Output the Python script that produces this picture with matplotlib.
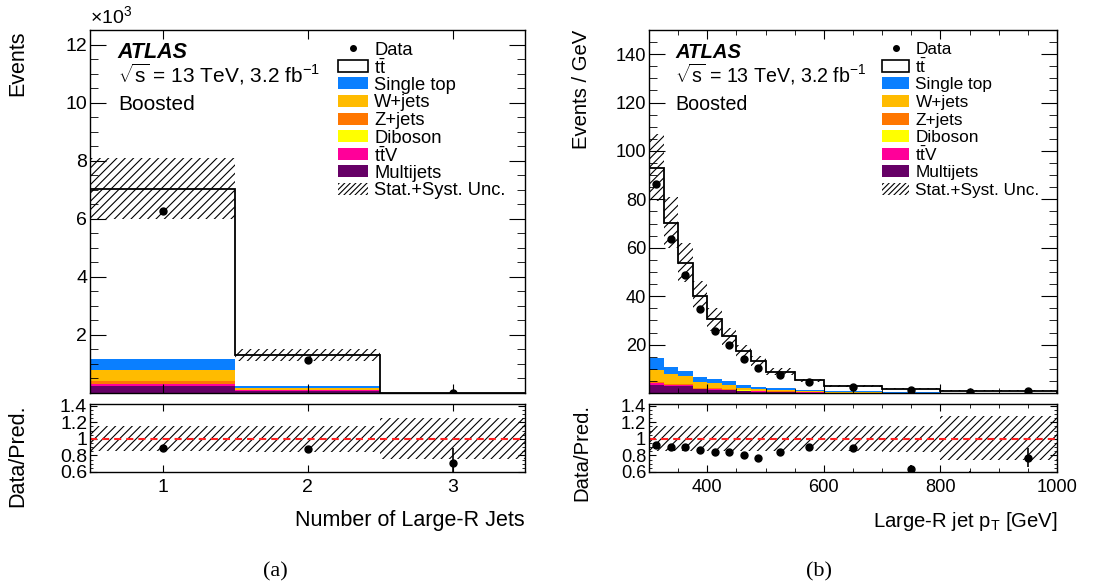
import matplotlib.pyplot as plt
import numpy as np
from matplotlib.patches import Rectangle
from matplotlib.lines import Line2D
from matplotlib.ticker import FixedLocator, MultipleLocator, FormatStrFormatter

plt.rcParams['font.family'] = ['Liberation Sans', 'DejaVu Sans']
plt.rcParams['mathtext.fontset'] = 'custom'
plt.rcParams['mathtext.rm'] = 'Liberation Sans'
plt.rcParams['mathtext.it'] = 'Liberation Sans:italic'
plt.rcParams['mathtext.bf'] = 'Liberation Sans:bold'
plt.rcParams['hatch.linewidth'] = 0.8
plt.rcParams['hatch.color'] = 'black'
plt.rcParams['axes.linewidth'] = 1.0

# background processes, bottom of the stack first
bkg_names = ['Multijets', 'ttV', 'Diboson', 'Z+jets', 'W+jets', 'Single top']
bkg_colors = ['#660066', '#ff0099', '#ffff00', '#ff7700', '#ffbb00', '#0a7fff']

# (a) number of large-R jets, events in units of 10^3
nj_edges = [0.5, 1.5, 2.5, 3.5]
nj_multijets = [0.25, 0.08, 0.001]
nj_ttv = [0.05, 0.02, 0.0005]
nj_diboson = [0.02, 0.005, 0.0002]
nj_zjets = [0.08, 0.015, 0.0003]
nj_wjets = [0.38, 0.05, 0.002]
nj_singletop = [0.40, 0.07, 0.002]
nj_ttbar = [5.86, 1.06, 0.006]
nj_data = [6.27, 1.14, 0.0085]
nj_data_err = [0.08, 0.034, 0.0022]
nj_unc_up = [0.15, 0.16, 0.25]
nj_unc_dn = [0.15, 0.16, 0.24]

# (b) large-R jet pT, events / GeV
pt_edges = [300, 325, 350, 375, 400, 425, 450, 475, 500, 550, 600, 700, 800, 900, 1000]
pt_multijets = [3.5, 2.8, 2.8, 1.5, 1.4, 1.1, 0.9, 0.6, 0.45, 0.18, 0.08, 0.03, 0.01, 0.01]
pt_ttv = [0.5, 0.4, 0.3, 0.2, 0.2, 0.15, 0.12, 0.1, 0.08, 0.05, 0.03, 0.01, 0.01, 0.0]
pt_diboson = [0.2, 0.15, 0.12, 0.1, 0.08, 0.06, 0.05, 0.03, 0.03, 0.02, 0.01, 0.005, 0.0, 0.0]
pt_zjets = [0.5, 0.4, 0.3, 0.25, 0.2, 0.15, 0.1, 0.08, 0.06, 0.04, 0.02, 0.01, 0.005, 0.0]
pt_wjets = [4.9, 4.0, 3.3, 2.6, 2.1, 1.8, 1.1, 0.8, 0.8, 0.5, 0.35, 0.15, 0.05, 0.02]
pt_singletop = [4.8, 3.2, 2.4, 2.0, 1.6, 1.5, 1.1, 0.7, 0.5, 0.3, 0.15, 0.08, 0.03, 0.02]
pt_ttbar = [78.7, 59.3, 44.7, 33.5, 24.8, 18.7, 14.0, 10.9, 6.9, 4.1, 2.3, 1.45, 0.9, 0.92]
pt_data = [86.4, 63.5, 48.7, 34.8, 25.5, 19.7, 14.0, 10.2, 7.4, 4.7, 2.6, 1.1, 0.55, 0.75]
pt_data_err = [0.5, 0.4, 0.35, 0.3, 0.25, 0.22, 0.2, 0.15, 0.1, 0.15, 0.1, 0.08, 0.07, 0.11]
pt_unc_up = [0.15, 0.15, 0.15, 0.15, 0.15, 0.15, 0.15, 0.15, 0.15, 0.15, 0.15, 0.16, 0.27, 0.27]
pt_unc_dn = [0.15, 0.15, 0.15, 0.15, 0.15, 0.15, 0.15, 0.15, 0.15, 0.15, 0.15, 0.16, 0.25, 0.25]

legend_entries = ['Data', r'$\mathrm{t\bar{t}}$', 'Single top', 'W+jets', 'Z+jets',
                  'Diboson', r'$\mathrm{t\bar{t}}$V', 'Multijets', 'Stat.+Syst. Unc.']


def draw_main(ax, edges, stack, ttbar, data, err, up, dn):
    edges = np.asarray(edges, float)
    base = np.zeros(len(edges) - 1)
    for vals, color in zip(stack, bkg_colors):
        vals = np.asarray(vals, float)
        ax.stairs(base + vals, edges, baseline=base, fill=True, color=color, lw=0)
        base = base + vals
    total = base + np.asarray(ttbar, float)
    ax.stairs(total, edges, baseline=base, fill=True, color='white', lw=0)
    ax.stairs(total, edges, color='black', lw=1.3)
    centers = 0.5 * (edges[1:] + edges[:-1])
    widths = np.diff(edges)
    up = np.asarray(up)
    dn = np.asarray(dn)
    ax.bar(centers, total * (up + dn), bottom=total * (1 - dn), width=widths,
           fill=False, hatch='////', edgecolor='black', lw=0)
    ax.errorbar(centers, data, yerr=err, fmt='o', color='black', ms=5,
                elinewidth=1.2, capsize=0)
    return total, centers, widths


def draw_ratio(rax, centers, widths, total, data, err, up, dn):
    up = np.asarray(up)
    dn = np.asarray(dn)
    rax.bar(centers, up + dn, bottom=1 - dn, width=widths,
            fill=False, hatch='////', edgecolor='black', lw=0)
    rax.axhline(1, color='#ff2020', ls=(0, (3.4, 2.4)), lw=1.5)
    rax.errorbar(centers, np.asarray(data) / total, yerr=np.asarray(err) / total,
                 fmt='o', color='black', ms=5, elinewidth=1.2, capsize=0)


def draw_legend(ax, fs):
    x0, w, xt = 0.571, 0.067, 0.653
    y0, dy, h = 0.950, 0.0485, 0.033
    for i, label in enumerate(legend_entries):
        y = y0 - i * dy
        if i == 0:
            ax.add_line(Line2D([x0 + w / 2], [y], marker='o', ms=4, color='black',
                               transform=ax.transAxes))
        elif i == 1:
            ax.add_patch(Rectangle((x0, y - h / 2), w, h, transform=ax.transAxes,
                                   facecolor='white', edgecolor='black', lw=1.2))
        elif i == len(legend_entries) - 1:
            ax.add_patch(Rectangle((x0, y - h / 2), w, h, transform=ax.transAxes,
                                   fill=False, hatch='//////', edgecolor='black', lw=0))
        else:
            color = bkg_colors[len(bkg_colors) - (i - 1)]
            ax.add_patch(Rectangle((x0, y - h / 2), w, h, transform=ax.transAxes,
                                   facecolor=color, edgecolor='none'))
        ax.text(xt, y, label, transform=ax.transAxes, va='center_baseline',
                ha='left', fontsize=fs)


def label_block(ax, k):
    ax.text(0.064, 0.923, 'ATLAS', transform=ax.transAxes, fontsize=15.5 * k,
            fontweight='bold', fontstyle='italic', va='baseline')
    ax.text(0.064, 0.854, r'$\sqrt{\mathrm{s}}$ = 13 TeV, 3.2 fb$^{-1}$',
            transform=ax.transAxes, fontsize=15 * k, va='baseline')
    ax.text(0.064, 0.780, 'Boosted', transform=ax.transAxes, fontsize=15 * k,
            va='baseline')


def style_axes(ax, xmaj_len, xmin_len, ymaj_len, ymin_len, fs):
    ax.tick_params(which='both', direction='in', top=True, right=True,
                   labelsize=fs)
    ax.tick_params(axis='x', which='major', length=xmaj_len, pad=5)
    ax.tick_params(axis='x', which='minor', length=xmin_len)
    ax.tick_params(axis='y', which='major', length=ymaj_len, pad=2)
    ax.tick_params(axis='y', which='minor', length=ymin_len)


fig = plt.figure(figsize=(11.19, 5.87), dpi=100)
W, H = 1119.0, 587.0


def add_axes(x0, x1, y0, y1):
    return fig.add_axes([x0 / W, 1 - y1 / H, (x1 - x0) / W, (y1 - y0) / H])


# ---- panel (a)
ax_a = add_axes(90, 525, 30, 393)
rax_a = add_axes(90, 525, 404, 472)
tot_a, c_a, w_a = draw_main(ax_a, nj_edges,
                            [nj_multijets, nj_ttv, nj_diboson, nj_zjets, nj_wjets, nj_singletop],
                            nj_ttbar, nj_data, nj_data_err, nj_unc_up, nj_unc_dn)
draw_ratio(rax_a, c_a, w_a, tot_a, nj_data, nj_data_err, nj_unc_up, nj_unc_dn)
for a in (ax_a, rax_a):
    a.set_xlim(0.5, 3.5)
    a.xaxis.set_major_locator(FixedLocator([1, 2, 3]))
ax_a.set_ylim(0, 12.5)
ax_a.yaxis.set_major_locator(FixedLocator([2, 4, 6, 8, 10, 12]))
ax_a.yaxis.set_minor_locator(MultipleLocator(0.5))
ax_a.set_xticklabels([])
ax_a.text(0.0, 1.008, r'$\times$10$^{3}$', transform=ax_a.transAxes, fontsize=14,
          va='bottom', ha='left')
ax_a.set_ylabel('Events', fontsize=15.5, loc='top')
ax_a.yaxis.set_label_coords(-0.1425, 1.0)
rax_a.set_xlabel('Number of Large-R Jets', fontsize=15.5, loc='right', labelpad=10)
draw_legend(ax_a, 13.2)
label_block(ax_a, 1.0)

# ---- panel (b), drawn a touch smaller in the original
kb = 0.94
ax_b = add_axes(649, 1057, 30, 393)
rax_b = add_axes(649, 1057, 404, 472)
tot_b, c_b, w_b = draw_main(ax_b, pt_edges,
                            [pt_multijets, pt_ttv, pt_diboson, pt_zjets, pt_wjets, pt_singletop],
                            pt_ttbar, pt_data, pt_data_err, pt_unc_up, pt_unc_dn)
draw_ratio(rax_b, c_b, w_b, tot_b, pt_data, pt_data_err, pt_unc_up, pt_unc_dn)
for a in (ax_b, rax_b):
    a.set_xlim(300, 1000)
    a.xaxis.set_major_locator(FixedLocator([400, 600, 800, 1000]))
    a.xaxis.set_minor_locator(MultipleLocator(50))
ax_b.set_ylim(0, 150)
ax_b.yaxis.set_major_locator(FixedLocator([20, 40, 60, 80, 100, 120, 140]))
ax_b.yaxis.set_minor_locator(MultipleLocator(5))
ax_b.set_xticklabels([])
ax_b.set_ylabel('Events / GeV', fontsize=15.5 * kb, loc='top')
ax_b.yaxis.set_label_coords(-0.142, 1.0)
rax_b.set_xlabel(r'Large-R jet p$_{\mathrm{T}}$ [GeV]', fontsize=15.5 * kb, loc='right',
                 labelpad=10)
draw_legend(ax_b, 13.2 * kb)
label_block(ax_b, kb)

for r in (rax_a, rax_b):
    r.set_ylim(0.6, 1.42)
    r.yaxis.set_major_locator(FixedLocator([0.6, 0.8, 1.0, 1.2, 1.4]))
    r.yaxis.set_minor_locator(MultipleLocator(0.05))
    r.yaxis.set_major_formatter(FormatStrFormatter('%g'))
rax_a.set_ylabel('Data/Pred.', fontsize=15.5, loc='top')
rax_b.set_ylabel('Data/Pred.', fontsize=15.5 * kb, loc='top')
rax_a.yaxis.set_label_coords(-0.1425, 1.0)
rax_b.yaxis.set_label_coords(-0.142, 1.0)

style_axes(ax_a, 6.5, 3.6, 11.5, 6, 14)
style_axes(ax_b, 6.5, 3.6, 11.5, 6, 14 * kb)
style_axes(rax_a, 5, 3, 5, 2.5, 14)
style_axes(rax_b, 5, 3, 5, 2.5, 14 * kb)
rax_a.tick_params(axis='x', which='minor', length=0)
ax_a.tick_params(axis='x', which='minor', length=0)

fig.text(275 / W, 1 - 572 / H, '(a)', family='Liberation Serif', fontsize=16,
         ha='center', va='center')
fig.text(819 / W, 1 - 572 / H, '(b)', family='Liberation Serif', fontsize=16,
         ha='center', va='center')

fig.savefig('out.png', dpi=100)
